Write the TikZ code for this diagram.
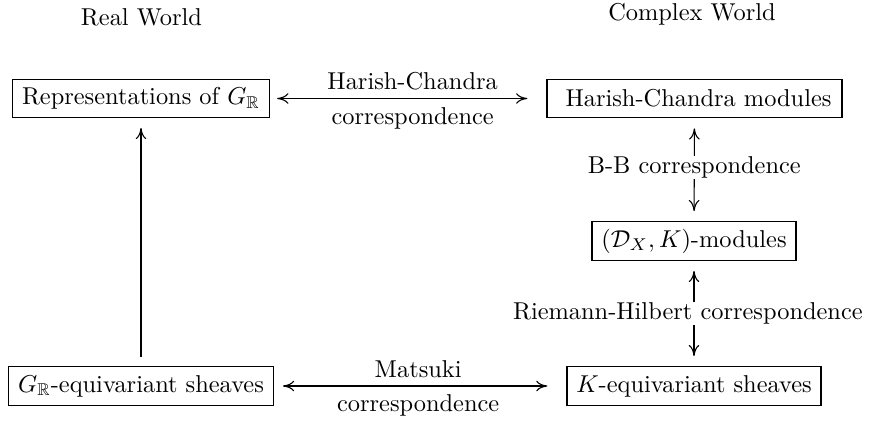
\documentclass[tikz,border=0pt]{standalone}
\usepackage{amssymb}
\usetikzlibrary{arrows.meta}
\begin{document}
\begin{tikzpicture}[x=0.41pt,y=-0.41pt,
  >={Computer Modern Rightarrow[length=4.6pt,width=4.4pt,line width=0.45pt]},
  box/.style={draw,line width=0.5pt,minimum height=15.8pt,inner sep=0pt,align=center},
  conn/.style={line width=0.45pt},
  blab/.style={fill=white,inner sep=0.4pt}]
\useasboundingbox (0,0) rectangle (869,421);
\node[anchor=base] (rw) at (141.5,25.5) {Real World};
\node[anchor=base] (cw) at (692,20) {Complex World};
\node[box,minimum width=105.4pt] (rep) at (141,98.5) {Representations of $G_{\mathbb R}$};
\node[box,minimum width=121pt] (hc) at (694.5,98.5) {\hspace*{3.3pt}Harish-Chandra modules};
\node[box,minimum width=83.6pt] (dx) at (694,241) {$(\mathcal{D}_X,K)$-modules};
\node[box,minimum width=108.5pt] (grs) at (141,386) {$G_{\mathbb R}$-equivariant sheaves};
\node[box,minimum width=104.1pt] (ks) at (694,386) {$K$-equivariant sheaves};
\draw[conn,<->,shorten <=2.9pt,shorten >=7.8pt] (rep) -- (hc)
  node[pos=0.516,above,inner sep=3.3pt] {Harish-Chandra}
  node[pos=0.516,below,inner sep=3.3pt] {correspondence};
\draw[conn,<->,shorten <=3.7pt,shorten >=7.8pt] (grs) -- (ks)
  node[pos=0.493,above,inner sep=3.3pt] {Matsuki}
  node[pos=0.493,below,inner sep=3.3pt] {correspondence};
\draw[conn,->,shorten <=3.8pt,shorten >=3.9pt] (grs) -- (rep);
\draw[conn,<->,shorten <=4.1pt,shorten >=4.1pt] (hc) -- (dx)
  node[midway,blab,yshift=1pt] {B-B correspondence};
\draw[conn,<->,shorten <=4.1pt,shorten >=4.1pt] (dx) -- (ks)
  node[midway,blab,xshift=-2.5pt] {Riemann-Hilbert correspondence};
\end{tikzpicture}
\end{document}
